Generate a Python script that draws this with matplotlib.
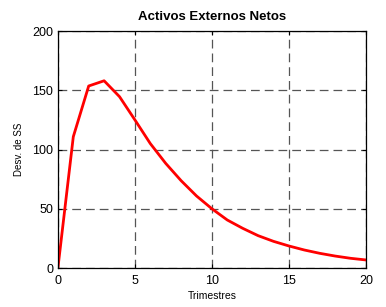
import matplotlib
matplotlib.use("Agg")
import matplotlib.pyplot as plt

quarters = list(range(0, 21))
values = [0, 110.8, 153.6, 158, 144.6, 125, 105, 88.3, 73.7, 60.8, 50,
          40.5, 33.5, 27.3, 22.5, 18.6, 15.2, 12.4, 10.1, 8.2, 6.8]
xticks = [0, 5, 10, 15, 20]
yticks = [0, 50, 100, 150, 200]

plt.rcParams['font.family'] = ['Liberation Sans', 'DejaVu Sans']
fig = plt.figure(figsize=(3.86, 3.07), dpi=100)
ax = fig.add_axes([0.150, 0.127, 0.798, 0.772])
ax.plot(quarters, values, color='red', linewidth=2.0)
ax.set_xlim(0, 20)
ax.set_ylim(0, 200)
ax.set_xticks(xticks)
ax.set_yticks(yticks)
ax.grid(True, color='#555555', linestyle=(0, (7, 4)), linewidth=0.9)
ax.tick_params(direction='in', top=True, right=True, labelsize=9, length=3, width=0.8)
ax.tick_params(axis='x', pad=5)
ax.tick_params(axis='y', pad=3.5)
for s in ax.spines.values():
    s.set_linewidth(0.9)
ax.set_title('Activos Externos Netos', fontsize=9.5, fontweight='bold', pad=8)
ax.set_xlabel('Trimestres', fontsize=7.5, labelpad=3)
ax.set_ylabel('Desv. de SS', fontsize=7, labelpad=6)
fig.savefig('out.png', dpi=100)
